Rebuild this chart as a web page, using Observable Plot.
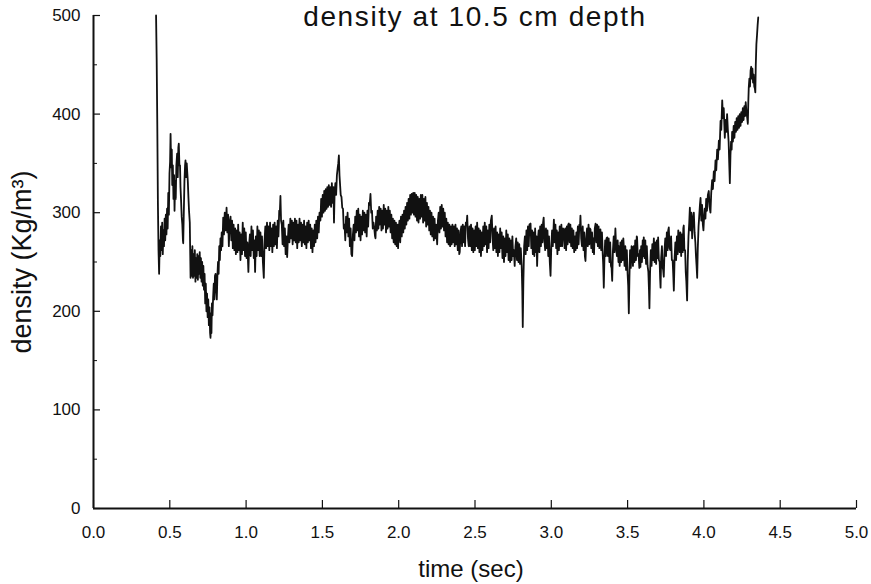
<!DOCTYPE html>
<html><head><meta charset="utf-8">
<script src="https://cdn.jsdelivr.net/npm/d3@7"></script>
<script src="https://cdn.jsdelivr.net/npm/@observablehq/plot@0.6"></script>
<style>html,body{margin:0;padding:0;background:#fff;} svg{display:block}</style>
</head><body><div id="chart"></div>
<script>
const titleText = "density at 10.5 cm depth";
const xLabel = "time (sec)";
const yLabel = "density (Kg/m³)";
const xTicks = [0, 0.5, 1, 1.5, 2, 2.5, 3, 3.5, 4, 4.5, 5];
const yTicks = [0, 100, 200, 300, 400, 500];
const yMinorTicks = [50, 150, 250, 350, 450];

// [time (sec), density (Kg/m3)]
const densityTrace = [
[0.410,500],[0.414,455],[0.418,390],[0.422,310],[0.426,262],[0.430,238],[0.434,272],[0.438,256],[0.442,286],[0.446,262],
[0.450,290],[0.454,258],[0.458,282],[0.462,266],[0.466,294],[0.470,272],[0.474,298],[0.478,278],[0.482,304],[0.486,284],
[0.490,320],[0.494,298],[0.498,340],[0.502,352],[0.505,380],[0.509,346],[0.513,364],[0.516,328],[0.520,348],[0.524,314],
[0.528,338],[0.531,302],[0.535,332],[0.539,314],[0.543,348],[0.548,360],[0.552,336],[0.556,366],[0.559,370],[0.563,348],
[0.567,348],[0.570,326],[0.574,312],[0.578,296],[0.582,288],[0.586,272],[0.588,269],[0.592,302],[0.596,332],[0.600,348],
[0.603,353],[0.607,336],[0.611,350],[0.614,342],[0.618,332],[0.622,316],[0.626,302],[0.631,290],[0.636,234],[0.640,262],
[0.644,236],[0.648,266],[0.652,234],[0.656,258],[0.660,236],[0.664,262],[0.668,230],[0.672,254],[0.676,234],[0.680,258],
[0.684,232],[0.688,256],[0.692,238],[0.696,260],[0.700,234],[0.704,254],[0.708,230],[0.712,250],[0.716,226],[0.720,246],
[0.724,222],[0.728,238],[0.732,208],[0.736,228],[0.740,200],[0.744,218],[0.748,194],[0.752,212],[0.756,186],[0.760,204],
[0.764,178],[0.767,173],[0.770,198],[0.773,178],[0.776,208],[0.780,196],[0.784,215],[0.788,228],[0.792,212],[0.796,236],
[0.800,238],[0.804,222],[0.808,212],[0.812,236],[0.816,250],[0.820,238],[0.824,266],[0.828,252],[0.832,274],[0.836,262],
[0.840,280],[0.845,266],[0.850,295],[0.855,278],[0.860,300],[0.866,282],[0.872,305],[0.877,280],[0.882,298],[0.887,266],
[0.892,290],[0.898,296],[0.903,272],[0.908,292],[0.913,264],[0.918,288],[0.923,262],[0.928,284],[0.933,258],[0.938,282],
[0.943,260],[0.948,288],[0.953,262],[0.958,280],[0.963,252],[0.968,278],[0.973,258],[0.978,290],[0.983,262],[0.988,284],
[0.993,256],[0.998,280],[1.003,254],[1.008,270],[1.015,240],[1.020,268],[1.025,278],[1.030,256],[1.035,286],[1.040,262],
[1.045,282],[1.050,254],[1.054,272],[1.059,240],[1.064,276],[1.069,256],[1.074,286],[1.079,262],[1.084,282],[1.089,256],
[1.094,280],[1.099,256],[1.104,276],[1.110,250],[1.116,234],[1.121,272],[1.126,286],[1.131,264],[1.137,290],[1.142,266],
[1.147,286],[1.152,262],[1.157,290],[1.162,266],[1.167,284],[1.172,260],[1.177,288],[1.182,266],[1.187,290],[1.192,268],
[1.197,286],[1.202,264],[1.207,292],[1.212,276],[1.217,302],[1.221,300],[1.225,317],[1.229,292],[1.234,288],[1.239,268],
[1.244,292],[1.249,266],[1.254,284],[1.259,258],[1.264,276],[1.269,255],[1.274,274],[1.279,288],[1.284,270],[1.290,294],
[1.295,274],[1.300,292],[1.305,268],[1.310,290],[1.315,272],[1.320,294],[1.325,270],[1.330,292],[1.335,264],[1.340,288],
[1.345,270],[1.350,294],[1.355,272],[1.360,290],[1.365,266],[1.370,288],[1.375,270],[1.380,292],[1.385,268],[1.390,286],
[1.395,264],[1.400,290],[1.405,270],[1.410,292],[1.415,272],[1.420,288],[1.425,264],[1.430,284],[1.435,260],[1.440,282],
[1.445,266],[1.450,288],[1.455,270],[1.460,292],[1.466,274],[1.471,296],[1.476,280],[1.481,300],[1.487,292],[1.492,314],
[1.497,296],[1.502,318],[1.507,300],[1.512,322],[1.517,302],[1.522,324],[1.527,304],[1.532,326],[1.537,306],[1.542,328],
[1.547,308],[1.552,326],[1.557,306],[1.562,330],[1.567,310],[1.572,326],[1.576,290],[1.580,320],[1.585,330],[1.590,318],
[1.595,338],[1.600,345],[1.604,350],[1.608,358],[1.612,338],[1.616,328],[1.620,318],[1.625,316],[1.630,305],[1.635,304],
[1.640,284],[1.645,288],[1.650,272],[1.655,296],[1.660,280],[1.665,300],[1.670,276],[1.675,294],[1.680,266],[1.685,284],
[1.690,258],[1.695,256],[1.700,278],[1.705,288],[1.710,272],[1.715,296],[1.720,280],[1.725,302],[1.730,282],[1.735,304],
[1.740,276],[1.745,298],[1.750,272],[1.755,296],[1.760,278],[1.765,302],[1.770,282],[1.775,300],[1.780,280],[1.785,298],
[1.790,276],[1.795,302],[1.800,286],[1.805,310],[1.810,308],[1.815,319],[1.820,300],[1.825,302],[1.830,284],[1.835,290],
[1.840,284],[1.845,276],[1.848,274],[1.852,296],[1.857,282],[1.862,302],[1.867,284],[1.872,306],[1.877,288],[1.882,304],
[1.887,282],[1.892,302],[1.897,284],[1.902,308],[1.907,288],[1.912,304],[1.917,280],[1.922,302],[1.927,284],[1.932,306],
[1.937,286],[1.942,302],[1.947,280],[1.952,298],[1.957,274],[1.962,294],[1.967,270],[1.972,292],[1.977,268],[1.982,290],
[1.987,266],[1.992,288],[1.996,264],[2.000,284],[2.005,292],[2.010,270],[2.015,296],[2.020,276],[2.025,298],[2.030,280],
[2.035,302],[2.040,284],[2.045,306],[2.050,288],[2.055,310],[2.060,292],[2.065,314],[2.070,294],[2.075,318],[2.080,298],
[2.085,319],[2.090,300],[2.095,320],[2.100,298],[2.105,320],[2.110,296],[2.115,318],[2.120,292],[2.125,316],[2.130,290],
[2.135,314],[2.140,294],[2.145,318],[2.150,296],[2.155,318],[2.160,290],[2.165,314],[2.170,292],[2.175,316],[2.180,286],
[2.185,310],[2.190,288],[2.195,306],[2.200,282],[2.205,302],[2.210,278],[2.215,300],[2.220,276],[2.225,296],[2.230,272],
[2.235,294],[2.240,274],[2.245,288],[2.252,268],[2.257,292],[2.262,300],[2.267,280],[2.272,306],[2.277,284],[2.282,308],
[2.287,286],[2.292,304],[2.297,282],[2.302,300],[2.307,276],[2.312,294],[2.317,270],[2.322,290],[2.327,268],[2.332,288],
[2.337,266],[2.342,286],[2.347,268],[2.352,288],[2.357,270],[2.362,286],[2.367,266],[2.372,288],[2.377,268],[2.382,284],
[2.387,262],[2.392,282],[2.397,258],[2.400,260],[2.405,280],[2.410,286],[2.415,266],[2.420,288],[2.425,270],[2.430,286],
[2.435,266],[2.440,290],[2.445,288],[2.449,297],[2.454,274],[2.459,266],[2.464,286],[2.469,266],[2.474,288],[2.479,262],
[2.484,284],[2.489,260],[2.494,282],[2.499,262],[2.504,286],[2.509,266],[2.514,290],[2.519,264],[2.524,284],[2.529,260],
[2.534,282],[2.539,256],[2.544,280],[2.549,262],[2.554,286],[2.559,266],[2.564,290],[2.569,268],[2.574,286],[2.579,260],
[2.584,282],[2.589,264],[2.594,288],[2.599,270],[2.604,292],[2.610,297],[2.615,274],[2.620,262],[2.625,284],[2.630,264],
[2.635,286],[2.640,260],[2.645,280],[2.650,256],[2.655,278],[2.660,260],[2.665,284],[2.670,264],[2.675,280],[2.680,254],
[2.685,276],[2.690,250],[2.695,274],[2.700,256],[2.705,282],[2.710,260],[2.715,278],[2.720,252],[2.725,274],[2.730,250],
[2.735,272],[2.740,252],[2.745,276],[2.750,256],[2.755,262],[2.760,246],[2.765,266],[2.770,274],[2.775,252],[2.780,270],
[2.785,250],[2.790,268],[2.795,248],[2.800,264],[2.806,246],[2.810,220],[2.813,184],[2.817,230],[2.822,266],[2.827,276],
[2.832,258],[2.837,282],[2.842,262],[2.847,286],[2.852,266],[2.857,288],[2.864,289],[2.869,264],[2.874,282],[2.879,258],
[2.884,280],[2.889,256],[2.894,284],[2.899,260],[2.903,276],[2.907,246],[2.912,272],[2.917,282],[2.922,260],[2.927,286],
[2.932,266],[2.937,288],[2.942,270],[2.946,290],[2.950,295],[2.955,272],[2.960,262],[2.965,284],[2.970,264],[2.975,282],
[2.980,256],[2.985,276],[2.990,250],[2.995,236],[3.000,266],[3.005,282],[3.010,266],[3.017,293],[3.022,270],[3.027,288],
[3.032,264],[3.036,282],[3.040,258],[3.045,280],[3.050,262],[3.055,286],[3.060,266],[3.066,288],[3.071,266],[3.077,284],
[3.082,283],[3.087,264],[3.092,284],[3.097,262],[3.102,286],[3.107,268],[3.111,288],[3.115,289],[3.120,270],[3.125,288],
[3.130,266],[3.135,284],[3.140,264],[3.145,282],[3.150,260],[3.155,276],[3.159,262],[3.164,280],[3.169,264],[3.174,286],
[3.179,268],[3.184,288],[3.188,286],[3.191,297],[3.196,274],[3.201,266],[3.206,286],[3.211,262],[3.216,280],[3.220,256],
[3.224,251],[3.229,274],[3.234,284],[3.239,266],[3.244,288],[3.249,268],[3.253,284],[3.257,283],[3.262,264],[3.267,280],
[3.272,260],[3.277,274],[3.280,258],[3.285,284],[3.290,289],[3.295,270],[3.300,288],[3.305,266],[3.310,286],[3.315,264],
[3.322,283],[3.327,262],[3.332,280],[3.337,258],[3.340,248],[3.344,224],[3.348,252],[3.353,272],[3.358,256],[3.362,274],
[3.366,275],[3.371,256],[3.376,274],[3.381,250],[3.386,270],[3.391,246],[3.395,244],[3.399,231],[3.404,262],[3.409,276],
[3.414,260],[3.420,284],[3.425,264],[3.430,256],[3.435,272],[3.440,250],[3.443,266],[3.448,246],[3.453,270],[3.458,250],
[3.463,272],[3.468,252],[3.472,274],[3.475,266],[3.480,246],[3.485,266],[3.490,242],[3.495,262],[3.500,238],[3.504,226],
[3.508,198],[3.512,234],[3.516,262],[3.521,244],[3.526,266],[3.530,265],[3.535,246],[3.540,266],[3.545,250],[3.550,272],
[3.555,252],[3.560,276],[3.562,275],[3.567,256],[3.572,258],[3.577,244],[3.581,262],[3.584,245],[3.589,266],[3.594,250],
[3.599,272],[3.603,256],[3.606,275],[3.611,254],[3.616,272],[3.621,248],[3.626,266],[3.631,246],[3.636,240],[3.640,222],
[3.643,203],[3.647,238],[3.652,262],[3.657,246],[3.662,268],[3.667,252],[3.672,274],[3.677,250],[3.682,270],[3.687,248],
[3.692,272],[3.697,254],[3.700,275],[3.705,252],[3.710,250],[3.713,234],[3.716,224],[3.720,254],[3.725,266],[3.730,244],
[3.733,242],[3.737,235],[3.742,262],[3.747,274],[3.752,256],[3.757,280],[3.762,262],[3.766,282],[3.770,285],[3.775,264],
[3.780,262],[3.785,276],[3.790,252],[3.795,252],[3.799,238],[3.803,221],[3.808,254],[3.813,270],[3.818,252],[3.823,276],
[3.828,258],[3.832,282],[3.836,278],[3.841,260],[3.846,280],[3.851,256],[3.856,278],[3.861,260],[3.865,284],[3.868,287],
[3.872,262],[3.877,262],[3.881,240],[3.885,230],[3.890,211],[3.894,250],[3.899,276],[3.904,290],[3.908,305],[3.913,282],
[3.918,300],[3.923,274],[3.928,294],[3.934,300],[3.939,280],[3.944,270],[3.948,256],[3.952,246],[3.956,234],[3.960,264],
[3.965,286],[3.970,298],[3.974,308],[3.978,315],[3.983,292],[3.988,308],[3.993,288],[3.997,282],[4.000,292],[4.005,304],
[4.010,294],[4.015,314],[4.020,302],[4.026,318],[4.032,322],[4.037,306],[4.043,300],[4.048,320],[4.054,333],[4.059,324],
[4.065,342],[4.070,332],[4.076,353],[4.081,343],[4.087,364],[4.092,354],[4.098,373],[4.103,364],[4.109,393],[4.114,384],
[4.120,414],[4.125,396],[4.130,406],[4.137,376],[4.142,394],[4.147,382],[4.152,400],[4.157,384],[4.162,372],[4.166,350],
[4.170,330],[4.174,358],[4.178,372],[4.182,364],[4.185,382],[4.190,372],[4.195,388],[4.200,376],[4.205,392],[4.210,382],
[4.215,396],[4.220,384],[4.225,398],[4.230,386],[4.235,400],[4.240,388],[4.245,402],[4.250,392],[4.255,406],[4.260,394],
[4.265,408],[4.270,398],[4.274,412],[4.279,402],[4.284,396],[4.288,390],[4.291,412],[4.294,427],[4.298,436],[4.302,428],
[4.306,444],[4.310,448],[4.314,436],[4.318,446],[4.322,432],[4.326,440],[4.330,428],[4.334,426],[4.337,422],[4.340,450],
[4.344,471],[4.348,480],[4.352,490],[4.356,498]
];

const data = densityTrace.map(([t, v]) => ({t, v}));
const fmt1 = d3.format(".1f");

const chart = Plot.plot({
  width: 871,
  height: 584,
  marginLeft: 93,
  marginRight: 15,
  marginTop: 15,
  marginBottom: 76,
  style: {fontFamily: "'Liberation Sans', Arial, sans-serif", background: "#fff", color: "#111"},
  x: {domain: [0, 5]},
  y: {domain: [0, 500]},
  marks: [
    Plot.axisX(xTicks, {tickSize: 0, tickPadding: 17, fontSize: 17, tickFormat: fmt1, label: null}),
    Plot.axisX(xTicks, {tickSize: -8, tickFormat: () => "", label: null, strokeWidth: 1.2}),
    Plot.axisY(yTicks, {tickSize: 0, tickPadding: 13, fontSize: 17, label: null}),
    Plot.axisY(yTicks, {tickSize: -7, tickFormat: () => "", label: null, strokeWidth: 1.2}),
    Plot.axisY(yMinorTicks, {tickSize: -4, tickFormat: () => "", label: null}),
    Plot.ruleY([0], {strokeWidth: 2, stroke: "#111"}),
    Plot.ruleX([0], {strokeWidth: 2, stroke: "#111"}),
    Plot.line(data, {x: "t", y: "v", stroke: "#111", strokeWidth: 1.8}),
    Plot.text([titleText], {frameAnchor: "top", lineAnchor: "middle", dy: 2, fontSize: 28, fill: "#111"}),
    Plot.text([xLabel], {frameAnchor: "bottom", lineAnchor: "middle", dy: 61, dx: -4, fontSize: 24, fill: "#111"}),
    Plot.text([yLabel], {frameAnchor: "left", lineAnchor: "middle", textAnchor: "middle", dx: -71, rotate: -90, fontSize: 27, fill: "#111"})
  ]
});
// widen the title slightly to match the reference's letter spacing
d3.select(chart).selectAll("text").filter(function() { return this.textContent === titleText; })
  .style("letter-spacing", "1.6px");
document.getElementById("chart").appendChild(chart);
</script>
</body></html>
